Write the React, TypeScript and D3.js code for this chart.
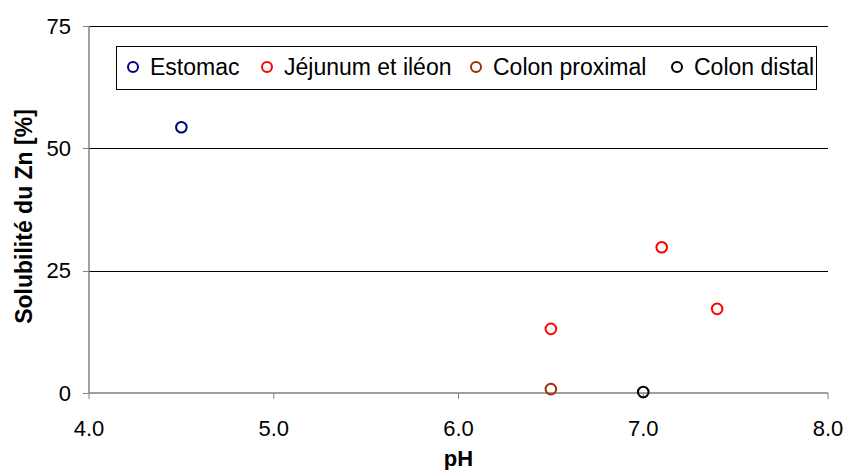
import React from "react";
import * as d3 from "d3";

const seriesNames = ["Estomac", "Jéjunum et iléon", "Colon proximal", "Colon distal"];
const seriesColors = ["#000080", "#FF0000", "#993300", "#000000"];
const estomacPH = [4.5];
const estomacSol = [54.3];
const jejunumPH = [6.5, 7.1, 7.4];
const jejunumSol = [13.1, 29.8, 17.2];
const colonProxPH = [6.5];
const colonProxSol = [0.8];
const colonDistPH = [7.0];
const colonDistSol = [0.2];
const xTicks = [4.0, 5.0, 6.0, 7.0, 8.0];
const yTicks = [0, 25, 50, 75];

const seriesData = [
  { ph: estomacPH, sol: estomacSol },
  { ph: jejunumPH, sol: jejunumSol },
  { ph: colonProxPH, sol: colonProxSol },
  { ph: colonDistPH, sol: colonDistSol },
];

export default function App() {
  const W = 847, H = 470;
  const left = 89, right = 828, top = 26, bottom = 393;
  const x = d3.scaleLinear().domain([4, 8]).range([left, right]);
  const y = d3.scaleLinear().domain([0, 75]).range([bottom, top]);
  const py = (t: number) => Math.round(y(t)) + 0.5;
  const font = "Arial, 'Liberation Sans', sans-serif";
  const legendMarkers = [133, 267, 476, 677];
  return (
    <svg width={W} height={H} style={{ position: "absolute", left: 0, top: 0 }} fontFamily={font}>
      <rect width={W} height={H} fill="#fff" />
      {yTicks.filter((t) => t > 0).map((t) => (
        <line key={"g" + t} x1={left} x2={right} y1={py(t)} y2={py(t)} stroke="#000" strokeWidth={1.2} />
      ))}
      <line x1={left} x2={left} y1={top} y2={bottom} stroke="#808080" strokeWidth={1.5} />
      <line x1={left} x2={right} y1={bottom} y2={bottom} stroke="#808080" strokeWidth={1.5} />
      {yTicks.map((t) => (
        <g key={"y" + t}>
          <line x1={left - 6} x2={left} y1={py(t)} y2={py(t)} stroke="#808080" />
          <text x={71} y={y(t) + 7.5} textAnchor="end" fontSize={22} fill="#000">{t}</text>
        </g>
      ))}
      {xTicks.map((t) => (
        <g key={"x" + t}>
          <line x1={x(t)} x2={x(t)} y1={bottom} y2={bottom + 6} stroke="#808080" />
          <text x={x(t)} y={436} textAnchor="middle" fontSize={22} fill="#000">{t.toFixed(1)}</text>
        </g>
      ))}
      <text x={(left + right) / 2} y={466} textAnchor="middle" fontSize={22} fontWeight="bold">pH</text>
      <text transform={`translate(32, ${(top + bottom) / 2 + 7}) rotate(-90)`} textAnchor="middle" fontSize={23} fontWeight="bold">Solubilité du Zn [%]</text>
      {seriesData.map((s, i) =>
        s.ph.map((p, j) => (
          <circle key={i + "-" + j} cx={x(p)} cy={y(s.sol[j])} r={5.3} fill="none" stroke={seriesColors[i]} strokeWidth={2} />
        ))
      )}
      <rect x={116.5} y={46.5} width={700} height={43} fill="#fff" stroke="#000" strokeWidth={1} />
      {seriesNames.map((n, i) => (
        <g key={n}>
          <circle cx={legendMarkers[i]} cy={67} r={5} fill="none" stroke={seriesColors[i]} strokeWidth={2} />
          <text x={legendMarkers[i] + 17} y={75} fontSize={23} fill="#000">{n}</text>
        </g>
      ))}
    </svg>
  );
}
